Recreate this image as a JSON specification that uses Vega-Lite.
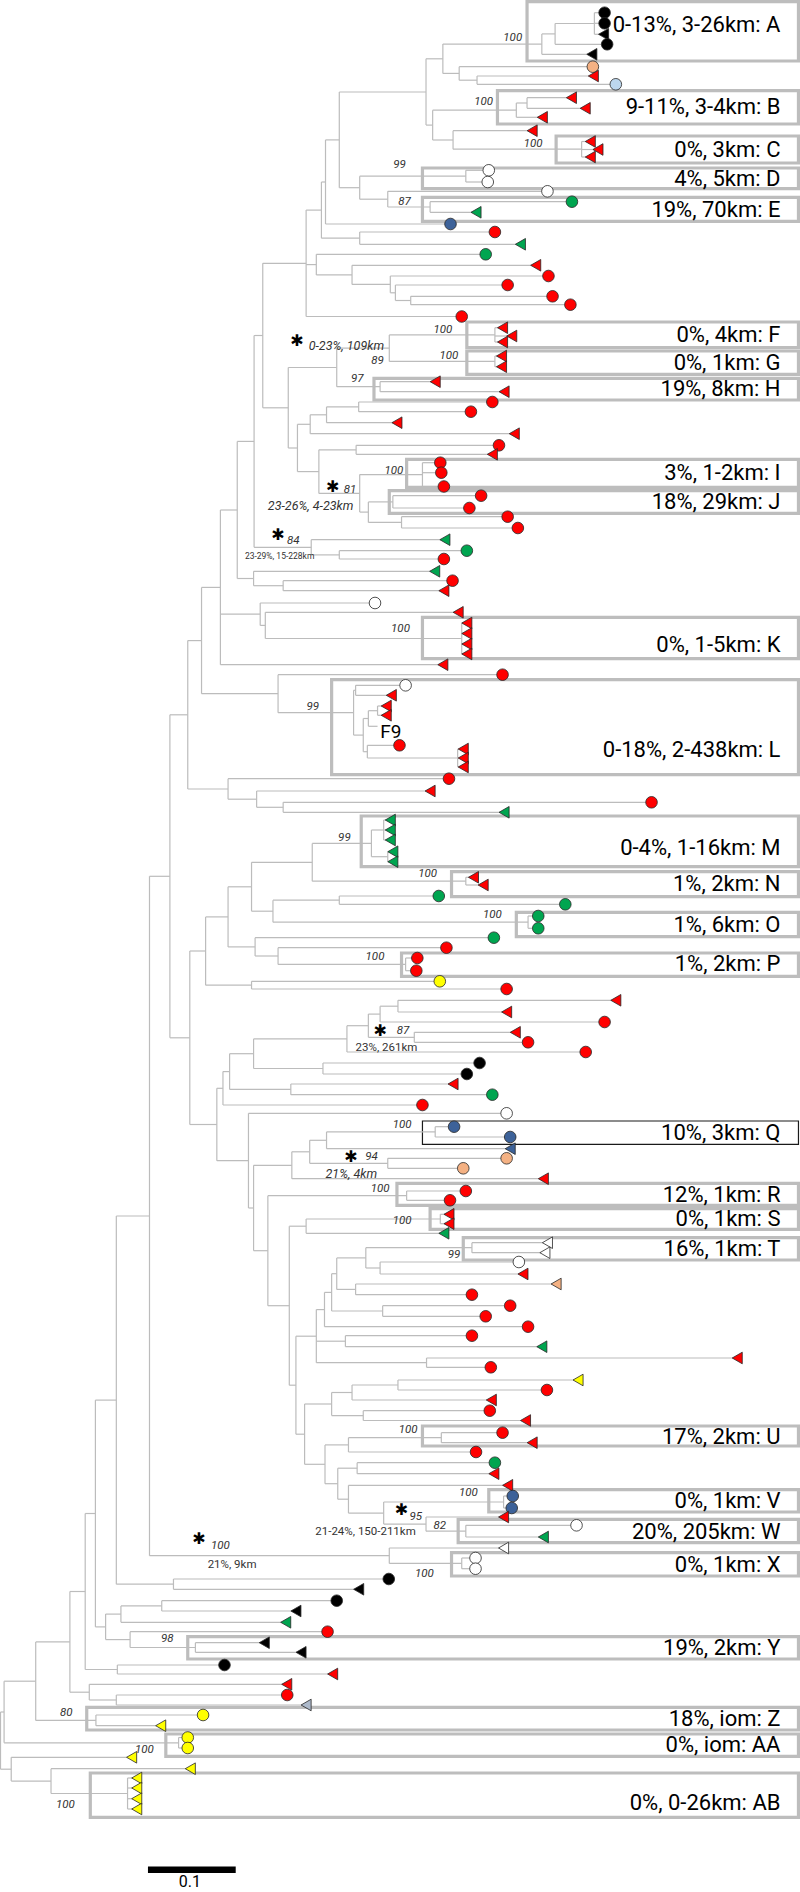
{
"$schema":"https://vega.github.io/schema/vega-lite/v6.json",
"width":800,"height":1892,"autosize":{"type":"none"},"padding":0,"background":"white",
"config":{"view":{"stroke":null},"text":{"font":"Roboto"}},
"datasets":{
"tree":[
{"id":"1","p":"2","px":1088,"x":1165,"y":23.5},
{"id":"2","p":"3","px":1062,"x":1088,"y":33.9},
{"id":"3","p":"4","px":868,"x":1062,"y":44.1},
{"id":"6","p":"5","px":900,"x":935,"y":80.2},
{"id":"5","p":"4","px":868,"x":900,"y":73.4},
{"id":"4","p":"7","px":835,"x":868,"y":58.8},
{"id":"9","p":"10","px":1012,"x":1033,"y":103},
{"id":"10","p":"11","px":848,"x":1012,"y":110.2},
{"id":"13","p":"12","px":888,"x":1140,"y":149.2},
{"id":"12","p":"11","px":848,"x":888,"y":140},
{"id":"11","p":"7","px":835,"x":848,"y":125.1},
{"id":"7","p":"18","px":665,"x":835,"y":92},
{"id":"14","p":"15","px":705,"x":913,"y":176.2},
{"id":"17","p":"16","px":760,"x":843,"y":207},
{"id":"16","p":"15","px":705,"x":760,"y":199.2},
{"id":"15","p":"18","px":665,"x":705,"y":187.7},
{"id":"18","p":"19","px":638,"x":665,"y":139.9},
{"id":"19","p":"19b","px":630,"x":638,"y":182},
{"id":"20","p":"19b","px":630,"x":705,"y":238.2},
{"id":"19b","p":"27","px":600,"x":630,"y":210.1},
{"id":"26","p":"25","px":775,"x":805,"y":300.5},
{"id":"25","p":"24","px":765,"x":775,"y":292.8},
{"id":"24","p":"23","px":690,"x":765,"y":284.4},
{"id":"23","p":"22","px":620,"x":690,"y":274.9},
{"id":"22","p":"27","px":600,"x":620,"y":264.6},
{"id":"27","p":"28","px":515,"x":600,"y":263.3},
{"id":"31","p":"33","px":763,"x":970,"y":334.9},
{"id":"32","p":"33","px":763,"x":970,"y":361.4},
{"id":"33","p":"34","px":660,"x":763,"y":348.2},
{"id":"35","p":"34","px":660,"x":745,"y":386.7},
{"id":"34","p":"29","px":565,"x":660,"y":367.5},
{"id":"36","p":"37","px":640,"x":703,"y":406.9},
{"id":"37","p":"38","px":608,"x":640,"y":414.8},
{"id":"38","p":"42","px":583,"x":608,"y":424.3},
{"id":"39","p":"40","px":625,"x":698,"y":449.8},
{"id":"43","p":"44","px":705,"x":828,"y":474.6},
{"id":"46","p":"48","px":722,"x":770,"y":501.9},
{"id":"47","p":"48","px":722,"x":787,"y":522.4},
{"id":"48","p":"44","px":705,"x":722,"y":512.1},
{"id":"44","p":"40","px":625,"x":705,"y":493.4},
{"id":"40","p":"42","px":583,"x":625,"y":471.6},
{"id":"42","p":"29","px":565,"x":583,"y":448},
{"id":"29","p":"28","px":515,"x":565,"y":407.8},
{"id":"28","p":"30","px":498,"x":515,"y":335.5},
{"id":"49","p":"50","px":610,"x":665,"y":554.9},
{"id":"50","p":"30","px":498,"x":610,"y":547.3},
{"id":"30","p":"53","px":465,"x":498,"y":441.4},
{"id":"51","p":"52","px":497,"x":555,"y":585.7},
{"id":"52","p":"53","px":465,"x":497,"y":578.5},
{"id":"53","p":"58","px":432,"x":465,"y":510},
{"id":"55","p":"56","px":520,"x":905,"y":638.5},
{"id":"56","p":"57","px":510,"x":520,"y":625.4},
{"id":"57","p":"58","px":432,"x":510,"y":614.2},
{"id":"58","p":"59","px":395,"x":432,"y":587.4},
{"id":"62","p":"68","px":693,"x":697,"y":690.3},
{"id":"63","p":"64","px":722,"x":740,"y":710.7},
{"id":"64","p":"67","px":712,"x":722,"y":718.5},
{"id":"65","p":"66","px":720,"x":897,"y":758},
{"id":"66","p":"67","px":712,"x":720,"y":751.7},
{"id":"67","p":"68","px":693,"x":712,"y":735.1},
{"id":"68","p":"60","px":545,"x":693,"y":712.7},
{"id":"60","p":"59","px":395,"x":545,"y":693.7},
{"id":"59","p":"61","px":368,"x":395,"y":640.6},
{"id":"70","p":"71","px":503,"x":555,"y":807.3},
{"id":"71","p":"69","px":447,"x":503,"y":799.2},
{"id":"69","p":"61","px":368,"x":447,"y":789},
{"id":"61","p":"72","px":333,"x":368,"y":714.8},
{"id":"72","p":"73","px":293,"x":333,"y":876.3},
{"id":"74a","p":"74","px":728,"x":752,"y":830},
{"id":"74b","p":"74","px":728,"x":760,"y":856.7},
{"id":"74","p":"76","px":612,"x":728,"y":843.4},
{"id":"75","p":"76","px":612,"x":913,"y":881.2},
{"id":"76","p":"80","px":493,"x":612,"y":862.3},
{"id":"77","p":"79","px":535,"x":665,"y":900.2},
{"id":"78","p":"79","px":535,"x":1035,"y":922.2},
{"id":"79","p":"80","px":493,"x":535,"y":911.2},
{"id":"80","p":"82","px":447,"x":493,"y":886.8},
{"id":"85","p":"84","px":545,"x":795,"y":964.4},
{"id":"84","p":"81","px":500,"x":545,"y":956},
{"id":"81","p":"82","px":447,"x":500,"y":946.9},
{"id":"82","p":"83","px":403,"x":447,"y":916.9},
{"id":"86","p":"83","px":403,"x":493,"y":985.2},
{"id":"83","p":"87","px":372,"x":403,"y":951},
{"id":"88","p":"89","px":745,"x":780,"y":1006.2},
{"id":"89","p":"91","px":722,"x":745,"y":1014.1},
{"id":"90","p":"91","px":722,"x":812,"y":1037.3},
{"id":"91","p":"92","px":680,"x":722,"y":1025.7},
{"id":"92","p":"94","px":497,"x":680,"y":1038.9},
{"id":"93","p":"94","px":497,"x":633,"y":1068.5},
{"id":"94","p":"96","px":450,"x":497,"y":1053.7},
{"id":"95","p":"96","px":450,"x":570,"y":1089.4},
{"id":"96","p":"97","px":437,"x":450,"y":1071.6},
{"id":"97","p":"98","px":425,"x":437,"y":1088.3},
{"id":"100","p":"101","px":640,"x":853,"y":1131.9},
{"id":"101","p":"103","px":607,"x":640,"y":1140.3},
{"id":"102","p":"103","px":607,"x":760,"y":1163.3},
{"id":"103","p":"104","px":572,"x":607,"y":1151.8},
{"id":"104","p":"105","px":497,"x":572,"y":1165.3},
{"id":"106","p":"110","px":525,"x":797,"y":1195.7},
{"id":"107","p":"108","px":600,"x":863,"y":1219},
{"id":"108","p":"109","px":567,"x":600,"y":1226.2},
{"id":"112","p":"114","px":717,"x":925,"y":1247.7},
{"id":"113","p":"114","px":717,"x":745,"y":1268},
{"id":"114","p":"116","px":660,"x":717,"y":1257.9},
{"id":"115","p":"116","px":660,"x":697,"y":1289.4},
{"id":"116","p":"118","px":650,"x":660,"y":1273.7},
{"id":"117","p":"118","px":650,"x":750,"y":1311},
{"id":"118","p":"119","px":636,"x":650,"y":1292.4},
{"id":"119","p":"122","px":620,"x":636,"y":1309.6},
{"id":"120","p":"122","px":620,"x":677,"y":1341.2},
{"id":"121","p":"122","px":620,"x":836,"y":1362.7},
{"id":"122","p":"111","px":580,"x":620,"y":1336.2},
{"id":"126","p":"127","px":690,"x":780,"y":1385},
{"id":"127","p":"124","px":650,"x":690,"y":1392.5},
{"id":"128","p":"124","px":650,"x":712,"y":1415.6},
{"id":"124","p":"123","px":597,"x":650,"y":1404},
{"id":"129","p":"130","px":683,"x":865,"y":1437.7},
{"id":"130","p":"125","px":637,"x":683,"y":1444.9},
{"id":"131","p":"137","px":662,"x":700,"y":1468.2},
{"id":"132","p":"135","px":752,"x":987,"y":1502},
{"id":"133","p":"134","px":835,"x":913,"y":1531.2},
{"id":"134","p":"135","px":752,"x":835,"y":1524.1},
{"id":"135","p":"136","px":683,"x":752,"y":1513.1},
{"id":"136","p":"137","px":662,"x":683,"y":1499.2},
{"id":"137","p":"125","px":637,"x":662,"y":1483.7},
{"id":"125","p":"123","px":597,"x":637,"y":1464.3},
{"id":"123","p":"111","px":580,"x":597,"y":1434.2},
{"id":"111","p":"109","px":567,"x":580,"y":1385.2},
{"id":"109","p":"110","px":525,"x":567,"y":1305.7},
{"id":"110","p":"105","px":497,"x":525,"y":1250.7},
{"id":"105","p":"99","px":487,"x":497,"y":1208},
{"id":"99","p":"98","px":425,"x":487,"y":1160.7},
{"id":"98","p":"87","px":372,"x":425,"y":1124.5},
{"id":"87","p":"72","px":333,"x":372,"y":1037.8},
{"id":"139","p":"138","px":763,"x":905,"y":1563.4},
{"id":"138","p":"73","px":293,"x":763,"y":1555.7},
{"id":"73","p":"140","px":228,"x":293,"y":1216},
{"id":"141","p":"140","px":228,"x":340,"y":1584.2},
{"id":"140","p":"142","px":187,"x":228,"y":1400.1},
{"id":"143","p":"144","px":237,"x":317,"y":1605.9},
{"id":"144","p":"147","px":207,"x":237,"y":1614.1},
{"id":"145","p":"146","px":255,"x":383,"y":1647.5},
{"id":"146","p":"147","px":207,"x":255,"y":1639.6},
{"id":"147","p":"142","px":187,"x":207,"y":1626.9},
{"id":"142","p":"149","px":167,"x":187,"y":1513.5},
{"id":"148","p":"149","px":167,"x":230,"y":1669.5},
{"id":"149","p":"152","px":137,"x":167,"y":1591.5},
{"id":"150","p":"151","px":175,"x":228,"y":1700},
{"id":"151","p":"152","px":137,"x":175,"y":1692.2},
{"id":"152","p":"154","px":70,"x":137,"y":1641.9},
{"id":"153","p":"154","px":70,"x":188,"y":1720.4},
{"id":"154","p":"r1","px":8,"x":70,"y":1681.2},
{"id":"155","p":"r1","px":8,"x":350,"y":1742.8},
{"id":"r1","p":"r0","px":1,"x":8,"y":1712},
{"id":"156","p":"157","px":100,"x":250,"y":1793.5},
{"id":"157","p":"158","px":22,"x":100,"y":1781.1},
{"id":"158","p":"r0","px":1,"x":22,"y":1769.2},
{"p":"1","px":1165,"x":1185,"y":12.7,"k":"o","g":"black"},
{"p":"1","px":1165,"x":1185,"y":23.3,"k":"o","g":"black"},
{"p":"1","px":1165,"x":1183,"y":34.3,"k":"t","g":"black"},
{"p":"2","px":1088,"x":1190,"y":44.3,"k":"o","g":"black"},
{"p":"3","px":1062,"x":1160,"y":54.3,"k":"t","g":"black"},
{"p":"5","px":900,"x":1162,"y":66.7,"k":"o","g":"peach"},
{"p":"6","px":935,"x":1163,"y":76,"k":"t","g":"red"},
{"p":"6","px":935,"x":1207,"y":84.3,"k":"o","g":"ltblue"},
{"p":"9","px":1033,"x":1120,"y":97.7,"k":"t","g":"red"},
{"p":"9","px":1033,"x":1147,"y":108.3,"k":"t","g":"red"},
{"p":"10","px":1012,"x":1063,"y":117.3,"k":"t","g":"red"},
{"p":"12","px":888,"x":1043,"y":130.7,"k":"t","g":"red"},
{"p":"13","px":1140,"x":1157,"y":141.5,"k":"t","g":"red"},
{"p":"13","px":1140,"x":1172,"y":149.5,"k":"t","g":"red"},
{"p":"13","px":1140,"x":1157,"y":157,"k":"t","g":"red"},
{"p":"14","px":913,"x":958,"y":170.3,"k":"o","g":"white"},
{"p":"14","px":913,"x":956,"y":182,"k":"o","g":"white"},
{"p":"16","px":760,"x":1073,"y":191.3,"k":"o","g":"white"},
{"p":"17","px":843,"x":1121,"y":201.7,"k":"o","g":"green"},
{"p":"17","px":843,"x":933,"y":212.3,"k":"t","g":"green"},
{"p":"19","px":638,"x":883,"y":224,"k":"o","g":"blue"},
{"p":"20","px":705,"x":970,"y":232,"k":"o","g":"red"},
{"p":"20","px":705,"x":1020,"y":244.3,"k":"t","g":"green"},
{"p":"22","px":620,"x":952,"y":254.3,"k":"o","g":"green"},
{"p":"23","px":690,"x":1050,"y":265.3,"k":"t","g":"red"},
{"p":"24","px":765,"x":1075,"y":276,"k":"o","g":"red"},
{"p":"25","px":775,"x":995,"y":285,"k":"o","g":"red"},
{"p":"26","px":805,"x":1083,"y":296.3,"k":"o","g":"red"},
{"p":"26","px":805,"x":1118,"y":304.7,"k":"o","g":"red"},
{"p":"27","px":600,"x":905,"y":316.5,"k":"o","g":"red"},
{"p":"31","px":970,"x":985,"y":327.7,"k":"t","g":"red"},
{"p":"31","px":970,"x":1003,"y":336,"k":"t","g":"red"},
{"p":"31","px":970,"x":985,"y":342,"k":"t","g":"red"},
{"p":"32","px":970,"x":983,"y":356,"k":"t","g":"red"},
{"p":"32","px":970,"x":983,"y":366.7,"k":"t","g":"red"},
{"p":"35","px":745,"x":853,"y":381.7,"k":"t","g":"red"},
{"p":"35","px":745,"x":988,"y":391.7,"k":"t","g":"red"},
{"p":"36","px":703,"x":965,"y":402,"k":"o","g":"red"},
{"p":"36","px":703,"x":923,"y":411.7,"k":"o","g":"red"},
{"p":"37","px":640,"x":778,"y":422.7,"k":"t","g":"red"},
{"p":"38","px":608,"x":1008,"y":433.7,"k":"t","g":"red"},
{"p":"39","px":698,"x":978,"y":445.3,"k":"o","g":"red"},
{"p":"39","px":698,"x":965,"y":454.3,"k":"t","g":"red"},
{"p":"43","px":828,"x":863,"y":462.7,"k":"o","g":"red"},
{"p":"43","px":828,"x":865,"y":472.7,"k":"o","g":"red"},
{"p":"43","px":828,"x":870,"y":486.5,"k":"o","g":"red"},
{"p":"46","px":770,"x":943,"y":495.7,"k":"o","g":"red"},
{"p":"46","px":770,"x":920,"y":508,"k":"o","g":"red"},
{"p":"47","px":787,"x":995,"y":516.7,"k":"o","g":"red"},
{"p":"47","px":787,"x":1015,"y":528,"k":"o","g":"red"},
{"p":"50","px":610,"x":872,"y":539.7,"k":"t","g":"green"},
{"p":"49","px":665,"x":915,"y":550.7,"k":"o","g":"green"},
{"p":"49","px":665,"x":870,"y":559,"k":"o","g":"red"},
{"p":"52","px":497,"x":852,"y":571.3,"k":"t","g":"green"},
{"p":"51","px":555,"x":887,"y":580.7,"k":"o","g":"red"},
{"p":"51","px":555,"x":870,"y":590.7,"k":"t","g":"red"},
{"p":"57","px":510,"x":735,"y":603,"k":"o","g":"white"},
{"p":"56","px":520,"x":898,"y":612.3,"k":"t","g":"red"},
{"p":"55","px":905,"x":915,"y":623,"k":"t","g":"red"},
{"p":"55","px":905,"x":915,"y":633.5,"k":"t","g":"red"},
{"p":"55","px":905,"x":915,"y":644,"k":"t","g":"red"},
{"p":"55","px":905,"x":915,"y":654,"k":"t","g":"red"},
{"p":"58","px":432,"x":868,"y":664.7,"k":"t","g":"red"},
{"p":"60","px":545,"x":985,"y":674.7,"k":"o","g":"red"},
{"p":"62","px":697,"x":795,"y":685.3,"k":"o","g":"white"},
{"p":"62","px":697,"x":767,"y":695.3,"k":"t","g":"red"},
{"p":"63","px":740,"x":757,"y":706,"k":"t","g":"red"},
{"p":"63","px":740,"x":757,"y":715.3,"k":"t","g":"red"},
{"p":"64","px":722,"x":740,"y":726.3},
{"p":"66","px":720,"x":783,"y":745.3,"k":"o","g":"red"},
{"p":"65","px":897,"x":908,"y":749,"k":"t","g":"red"},
{"p":"65","px":897,"x":908,"y":758,"k":"t","g":"red"},
{"p":"65","px":897,"x":908,"y":767,"k":"t","g":"red"},
{"p":"69","px":447,"x":880,"y":778.7,"k":"o","g":"red"},
{"p":"71","px":503,"x":843,"y":791,"k":"t","g":"red"},
{"p":"70","px":555,"x":1277,"y":802.3,"k":"o","g":"red"},
{"p":"70","px":555,"x":988,"y":812.3,"k":"t","g":"green"},
{"p":"74a","px":752,"x":765,"y":820,"k":"t","g":"green"},
{"p":"74a","px":752,"x":765,"y":830,"k":"t","g":"green"},
{"p":"74a","px":752,"x":765,"y":840,"k":"t","g":"green"},
{"p":"74b","px":760,"x":770,"y":851.7,"k":"t","g":"green"},
{"p":"74b","px":760,"x":770,"y":861.7,"k":"t","g":"green"},
{"p":"75","px":913,"x":928,"y":877.3,"k":"t","g":"red"},
{"p":"75","px":913,"x":947,"y":885,"k":"t","g":"red"},
{"p":"77","px":665,"x":860,"y":896,"k":"o","g":"green"},
{"p":"77","px":665,"x":1108,"y":904.3,"k":"o","g":"green"},
{"p":"78","px":1035,"x":1055,"y":916,"k":"o","g":"green"},
{"p":"78","px":1035,"x":1055,"y":928.3,"k":"o","g":"green"},
{"p":"81","px":500,"x":968,"y":937.7,"k":"o","g":"green"},
{"p":"84","px":545,"x":875,"y":947.7,"k":"o","g":"red"},
{"p":"85","px":795,"x":818,"y":958,"k":"o","g":"red"},
{"p":"85","px":795,"x":816,"y":970.7,"k":"o","g":"red"},
{"p":"86","px":493,"x":862,"y":981.3,"k":"o","g":"yellow"},
{"p":"86","px":493,"x":993,"y":989,"k":"o","g":"red"},
{"p":"88","px":780,"x":1207,"y":1000.3,"k":"t","g":"red"},
{"p":"88","px":780,"x":993,"y":1012,"k":"t","g":"red"},
{"p":"89","px":745,"x":1185,"y":1022,"k":"o","g":"red"},
{"p":"90","px":812,"x":1010,"y":1032.3,"k":"t","g":"red"},
{"p":"90","px":812,"x":1035,"y":1042.3,"k":"o","g":"red"},
{"p":"92","px":680,"x":1148,"y":1052,"k":"o","g":"red"},
{"p":"93","px":633,"x":940,"y":1063,"k":"o","g":"black"},
{"p":"93","px":633,"x":915,"y":1074,"k":"o","g":"black"},
{"p":"95","px":570,"x":888,"y":1084,"k":"t","g":"red"},
{"p":"95","px":570,"x":965,"y":1094.7,"k":"o","g":"green"},
{"p":"97","px":437,"x":828,"y":1105,"k":"o","g":"red"},
{"p":"99","px":487,"x":993,"y":1113.3,"k":"o","g":"white"},
{"p":"100","px":853,"x":890,"y":1126.7,"k":"o","g":"blue"},
{"p":"100","px":853,"x":1000,"y":1137,"k":"o","g":"blue"},
{"p":"101","px":640,"x":1000,"y":1148.7,"k":"t","g":"blue"},
{"p":"102","px":760,"x":993,"y":1158.3,"k":"o","g":"peach"},
{"p":"102","px":760,"x":908,"y":1168.3,"k":"o","g":"peach"},
{"p":"104","px":572,"x":1065,"y":1178.7,"k":"t","g":"red"},
{"p":"106","px":797,"x":913,"y":1191,"k":"o","g":"red"},
{"p":"106","px":797,"x":882,"y":1200.3,"k":"o","g":"red"},
{"p":"107","px":863,"x":880,"y":1214.3,"k":"t","g":"red"},
{"p":"107","px":863,"x":880,"y":1223.7,"k":"t","g":"red"},
{"p":"108","px":600,"x":870,"y":1233.3,"k":"t","g":"green"},
{"p":"112","px":925,"x":1073,"y":1242.7,"k":"t","g":"white"},
{"p":"112","px":925,"x":1068,"y":1252.7,"k":"t","g":"white"},
{"p":"113","px":745,"x":1017,"y":1262,"k":"o","g":"white"},
{"p":"113","px":745,"x":1025,"y":1274,"k":"t","g":"red"},
{"p":"115","px":697,"x":1090,"y":1284,"k":"t","g":"peach"},
{"p":"115","px":697,"x":925,"y":1294.7,"k":"o","g":"red"},
{"p":"117","px":750,"x":1000,"y":1305.7,"k":"o","g":"red"},
{"p":"117","px":750,"x":952,"y":1316.3,"k":"o","g":"red"},
{"p":"119","px":636,"x":1035,"y":1326.7,"k":"o","g":"red"},
{"p":"120","px":677,"x":925,"y":1335.7,"k":"o","g":"red"},
{"p":"120","px":677,"x":1062,"y":1346.7,"k":"t","g":"green"},
{"p":"121","px":836,"x":1445,"y":1358,"k":"t","g":"red"},
{"p":"121","px":836,"x":962,"y":1367.3,"k":"o","g":"red"},
{"p":"126","px":780,"x":1133,"y":1380,"k":"t","g":"yellow"},
{"p":"126","px":780,"x":1072,"y":1390,"k":"o","g":"red"},
{"p":"127","px":690,"x":963,"y":1400,"k":"t","g":"red"},
{"p":"128","px":712,"x":960,"y":1410.7,"k":"o","g":"red"},
{"p":"128","px":712,"x":1030,"y":1420.5,"k":"t","g":"red"},
{"p":"129","px":865,"x":985,"y":1432.7,"k":"o","g":"red"},
{"p":"129","px":865,"x":1043,"y":1442.7,"k":"t","g":"red"},
{"p":"130","px":683,"x":933,"y":1452,"k":"o","g":"red"},
{"p":"131","px":700,"x":970,"y":1462.7,"k":"o","g":"green"},
{"p":"131","px":700,"x":968,"y":1473.7,"k":"t","g":"red"},
{"p":"136","px":683,"x":995,"y":1485.3,"k":"t","g":"red"},
{"p":"132","px":987,"x":1005,"y":1496,"k":"o","g":"blue"},
{"p":"132","px":987,"x":1003,"y":1508,"k":"o","g":"blue"},
{"p":"134","px":835,"x":987,"y":1517,"k":"t","g":"red"},
{"p":"133","px":913,"x":1130,"y":1525.3,"k":"o","g":"white"},
{"p":"133","px":913,"x":1065,"y":1537,"k":"t","g":"green"},
{"p":"138","px":763,"x":987,"y":1548,"k":"t","g":"white"},
{"p":"139","px":905,"x":932,"y":1558,"k":"o","g":"white"},
{"p":"139","px":905,"x":932,"y":1568.7,"k":"o","g":"white"},
{"p":"141","px":340,"x":762,"y":1579,"k":"o","g":"black"},
{"p":"141","px":340,"x":703,"y":1589.3,"k":"t","g":"black"},
{"p":"143","px":317,"x":660,"y":1600.7,"k":"o","g":"black"},
{"p":"143","px":317,"x":580,"y":1611,"k":"t","g":"black"},
{"p":"144","px":237,"x":560,"y":1622.3,"k":"t","g":"green"},
{"p":"146","px":255,"x":642,"y":1631.7,"k":"o","g":"red"},
{"p":"145","px":383,"x":518,"y":1642.7,"k":"t","g":"black"},
{"p":"145","px":383,"x":590,"y":1652.3,"k":"t","g":"black"},
{"p":"148","px":230,"x":440,"y":1665,"k":"o","g":"black"},
{"p":"148","px":230,"x":652,"y":1674,"k":"t","g":"red"},
{"p":"151","px":175,"x":562,"y":1684.3,"k":"t","g":"red"},
{"p":"150","px":228,"x":563,"y":1695,"k":"o","g":"red"},
{"p":"150","px":228,"x":600,"y":1705,"k":"t","g":"grayblue"},
{"p":"153","px":188,"x":398,"y":1715,"k":"o","g":"yellow"},
{"p":"153","px":188,"x":315,"y":1725.7,"k":"t","g":"yellow"},
{"p":"155","px":350,"x":368,"y":1737.5,"k":"o","g":"yellow"},
{"p":"155","px":350,"x":368,"y":1748,"k":"o","g":"yellow"},
{"p":"158","px":22,"x":258,"y":1757.3,"k":"t","g":"yellow"},
{"p":"157","px":100,"x":373,"y":1768.7,"k":"t","g":"yellow"},
{"p":"156","px":250,"x":268,"y":1778,"k":"t","g":"yellow"},
{"p":"156","px":250,"x":268,"y":1788,"k":"t","g":"yellow"},
{"p":"156","px":250,"x":268,"y":1798.7,"k":"t","g":"yellow"},
{"p":"156","px":250,"x":268,"y":1809,"k":"t","g":"yellow"}
],
"boxes":[
{"id":"A","x1":1033,"x2":1565,"y1":1.7,"y2":61,"ly":25,"t":"0-13%, 3-26km: A"},
{"id":"B","x1":975,"x2":1565,"y1":90.7,"y2":124,"ly":107,"t":"9-11%, 3-4km: B"},
{"id":"C","x1":1090,"x2":1565,"y1":136,"y2":163,"ly":150,"t":"0%, 3km: C"},
{"id":"D","x1":828,"x2":1565,"y1":168,"y2":188.7,"ly":179,"t":"4%, 5km: D"},
{"id":"E","x1":828,"x2":1565,"y1":197.3,"y2":221.3,"ly":209.5,"t":"19%, 70km: E"},
{"id":"F","x1":915,"x2":1565,"y1":322,"y2":347.7,"ly":334.5,"t":"0%, 4km: F"},
{"id":"G","x1":915,"x2":1565,"y1":351,"y2":374.3,"ly":362.7,"t":"0%, 1km: G"},
{"id":"H","x1":733,"x2":1565,"y1":378.3,"y2":400,"ly":389.2,"t":"19%, 8km: H"},
{"id":"I","x1":797,"x2":1565,"y1":459.3,"y2":487.3,"ly":473,"t":"3%, 1-2km: I"},
{"id":"J","x1":763,"x2":1565,"y1":490.7,"y2":513.3,"ly":502,"t":"18%, 29km: J"},
{"id":"K","x1":828,"x2":1565,"y1":617.3,"y2":658.7,"ly":645,"t":"0%, 1-5km: K"},
{"id":"L","x1":650,"x2":1565,"y1":679.7,"y2":774.7,"ly":750.3,"t":"0-18%, 2-438km: L"},
{"id":"M","x1":708,"x2":1565,"y1":816,"y2":866.7,"ly":848.3,"t":"0-4%, 1-16km: M"},
{"id":"N","x1":885,"x2":1565,"y1":871.7,"y2":896.7,"ly":884.2,"t":"1%, 2km: N"},
{"id":"O","x1":1012,"x2":1565,"y1":912.3,"y2":936.7,"ly":924.5,"t":"1%, 6km: O"},
{"id":"P","x1":787,"x2":1565,"y1":953,"y2":976.3,"ly":964,"t":"1%, 2km: P"},
{"id":"Q","x1":828,"x2":1565,"y1":1121,"y2":1144.3,"ly":1132.7,"t":"10%, 3km: Q"},
{"id":"R","x1":778,"x2":1565,"y1":1183.3,"y2":1205.3,"ly":1194.5,"t":"12%, 1km: R"},
{"id":"S","x1":843,"x2":1565,"y1":1208.7,"y2":1229.3,"ly":1219,"t":"0%, 1km: S"},
{"id":"T","x1":908,"x2":1565,"y1":1237.7,"y2":1260,"ly":1249,"t":"16%, 1km: T"},
{"id":"U","x1":828,"x2":1565,"y1":1426,"y2":1446,"ly":1436.5,"t":"17%, 2km: U"},
{"id":"V","x1":958,"x2":1565,"y1":1489.7,"y2":1512,"ly":1501.3,"t":"0%, 1km: V"},
{"id":"W","x1":898,"x2":1565,"y1":1519.3,"y2":1542.7,"ly":1531.5,"t":"20%, 205km: W"},
{"id":"X","x1":885,"x2":1565,"y1":1552.7,"y2":1576,"ly":1564.5,"t":"0%, 1km: X"},
{"id":"Y","x1":368,"x2":1565,"y1":1636.7,"y2":1659,"ly":1648,"t":"19%, 2km: Y"},
{"id":"Z","x1":170,"x2":1565,"y1":1707.3,"y2":1730,"ly":1718.7,"t":"18%, iom: Z"},
{"id":"AA","x1":325,"x2":1565,"y1":1734,"y2":1756.3,"ly":1745.2,"t":"0%, iom: AA"},
{"id":"AB","x1":177,"x2":1565,"y1":1773,"y2":1817.3,"ly":1803,"t":"0%, 0-26km: AB"}
],
"boot":[
{"x":1005,"y":37.7,"t":"100"},{"x":948,"y":102.3,"t":"100"},{"x":1045,"y":144,"t":"100"},
{"x":783,"y":165.3,"t":"99"},{"x":793,"y":202,"t":"87"},{"x":868,"y":330.3,"t":"100"},
{"x":880,"y":356,"t":"100"},{"x":740,"y":361,"t":"89"},{"x":700,"y":379.3,"t":"97"},
{"x":772,"y":471,"t":"100"},{"x":686,"y":489.7,"t":"81"},{"x":575,"y":540.7,"t":"84"},
{"x":785,"y":629,"t":"100"},{"x":613,"y":707,"t":"99"},{"x":675,"y":838.3,"t":"99"},
{"x":838,"y":874,"t":"100"},{"x":965,"y":915.3,"t":"100"},{"x":735,"y":957.3,"t":"100"},
{"x":790,"y":1030.7,"t":"87"},{"x":788,"y":1125,"t":"100"},{"x":728,"y":1156.7,"t":"94"},
{"x":745,"y":1189.3,"t":"100"},{"x":788,"y":1221,"t":"100"},{"x":890,"y":1255,"t":"99"},
{"x":800,"y":1430.3,"t":"100"},{"x":918,"y":1493,"t":"100"},{"x":815,"y":1517,"t":"95"},
{"x":862,"y":1526,"t":"82"},{"x":432,"y":1546.3,"t":"100"},{"x":832,"y":1574.3,"t":"100"},
{"x":328,"y":1639.3,"t":"98"},{"x":130,"y":1712.7,"t":"80"},{"x":283,"y":1750.3,"t":"100"},
{"x":128,"y":1804.7,"t":"100"}
],
"stars":[
{"x":582,"y":341},{"x":652,"y":487.3},{"x":545,"y":535},{"x":745,"y":1030.7},
{"x":688,"y":1156.7},{"x":787,"y":1510.3},{"x":390,"y":1538.7}
],
"notesI":[
{"x":605,"y":346,"t":"0-23%, 109km"},{"x":525,"y":506.3,"t":"23-26%, 4-23km"},{"x":638,"y":1173.5,"t":"21%, 4km"}
],
"notesN":[
{"x":697,"y":1047.5,"t":"23%, 261km"},{"x":618,"y":1532,"t":"21-24%, 150-211km"},{"x":407,"y":1564.7,"t":"21%, 9km"}
],
"notesS":[{"x":480,"y":555.5,"t":"23-29%, 15-228km"}],
"f9":[{"x":766,"y":732,"t":"F9"}],
"bar":[{"a":290,"b":462,"y":1869.7,"t":"0.1","tx":372,"ty":1881.5}]
},
"layer":[
{"data":{"name":"boxes"},"mark":{"type":"rect","filled":false},
 "encoding":{"x":{"field":"x1","type":"quantitative","scale":{"domain":[0,1568],"nice":false,"zero":false},"axis":null},"x2":{"field":"x2"},
 "y":{"field":"y1","type":"quantitative","scale":{"domain":[0,1892],"nice":false,"zero":false,"reverse":true},"axis":null},"y2":{"field":"y2"},
 "stroke":{"condition":{"test":"datum.id==='Q'","value":"#1a1a1a"},"value":"#bdbdbd"},
 "strokeWidth":{"condition":{"test":"datum.id==='Q'","value":1.2},"value":3.2}}},
{"data":{"name":"tree"},"mark":{"type":"rule","color":"#bcbcbc","strokeWidth":1.2},
 "encoding":{"x":{"field":"px","type":"quantitative","scale":{"domain":[0,1568],"nice":false,"zero":false},"axis":null},"x2":{"field":"x"},
 "y":{"field":"y","type":"quantitative","scale":{"domain":[0,1892],"nice":false,"zero":false,"reverse":true},"axis":null}}},
{"data":{"name":"tree"},"transform":[{"aggregate":[{"op":"min","field":"y","as":"lo"},{"op":"max","field":"y","as":"hi"}],"groupby":["p","px"]}],
 "mark":{"type":"rule","color":"#bcbcbc","strokeWidth":1.2},
 "encoding":{"x":{"field":"px","type":"quantitative","scale":{"domain":[0,1568],"nice":false,"zero":false},"axis":null},
 "y":{"field":"lo","type":"quantitative","scale":{"domain":[0,1892],"nice":false,"zero":false,"reverse":true},"axis":null},"y2":{"field":"hi"}}},
{"data":{"name":"tree"},"transform":[{"filter":"datum.k"}],
 "mark":{"type":"point","filled":true,"stroke":"#262626","strokeWidth":0.8,"opacity":1,"size":135},
 "encoding":{"x":{"field":"x","type":"quantitative","scale":{"domain":[0,1568],"nice":false,"zero":false},"axis":null},
 "y":{"field":"y","type":"quantitative","scale":{"domain":[0,1892],"nice":false,"zero":false,"reverse":true},"axis":null},
 "shape":{"field":"k","type":"nominal","scale":{"domain":["o","t"],"range":["circle","triangle-left"]},"legend":null},
 "fill":{"field":"g","type":"nominal","scale":{"domain":["red","black","green","blue","ltblue","peach","white","yellow","grayblue"],"range":["#ff0000","#000000","#00a550","#3d6299","#bdd7ee","#f4b183","#ffffff","#ffff00","#adb9ca"]},"legend":null}}},
{"data":{"name":"boxes"},"mark":{"type":"text","align":"right","baseline":"middle","fontSize":22,"dx":-18,"color":"#000"},
 "encoding":{"x":{"field":"x2","type":"quantitative","scale":{"domain":[0,1568],"nice":false,"zero":false},"axis":null},
 "y":{"field":"ly","type":"quantitative","scale":{"domain":[0,1892],"nice":false,"zero":false,"reverse":true},"axis":null},"text":{"field":"t"}}},
{"data":{"name":"boot"},"mark":{"type":"text","align":"center","baseline":"middle","fontSize":11.5,"fontStyle":"italic","color":"#333"},
 "encoding":{"x":{"field":"x","type":"quantitative","scale":{"domain":[0,1568],"nice":false,"zero":false},"axis":null},
 "y":{"field":"y","type":"quantitative","scale":{"domain":[0,1892],"nice":false,"zero":false,"reverse":true},"axis":null},"text":{"field":"t"}}},
{"data":{"name":"stars"},"mark":{"type":"text","align":"center","baseline":"middle","fontSize":16,"font":"DejaVu Sans","color":"#000","text":"✱"},
 "encoding":{"x":{"field":"x","type":"quantitative","scale":{"domain":[0,1568],"nice":false,"zero":false},"axis":null},
 "y":{"field":"y","type":"quantitative","scale":{"domain":[0,1892],"nice":false,"zero":false,"reverse":true},"axis":null}}},
{"data":{"name":"notesI"},"mark":{"type":"text","align":"left","baseline":"middle","fontSize":12.5,"fontStyle":"italic","color":"#333"},
 "encoding":{"x":{"field":"x","type":"quantitative","scale":{"domain":[0,1568],"nice":false,"zero":false},"axis":null},
 "y":{"field":"y","type":"quantitative","scale":{"domain":[0,1892],"nice":false,"zero":false,"reverse":true},"axis":null},"text":{"field":"t"}}},
{"data":{"name":"notesN"},"mark":{"type":"text","align":"left","baseline":"middle","fontSize":11.5,"color":"#333"},
 "encoding":{"x":{"field":"x","type":"quantitative","scale":{"domain":[0,1568],"nice":false,"zero":false},"axis":null},
 "y":{"field":"y","type":"quantitative","scale":{"domain":[0,1892],"nice":false,"zero":false,"reverse":true},"axis":null},"text":{"field":"t"}}},
{"data":{"name":"notesS"},"mark":{"type":"text","align":"left","baseline":"middle","fontSize":8.5,"color":"#333"},
 "encoding":{"x":{"field":"x","type":"quantitative","scale":{"domain":[0,1568],"nice":false,"zero":false},"axis":null},
 "y":{"field":"y","type":"quantitative","scale":{"domain":[0,1892],"nice":false,"zero":false,"reverse":true},"axis":null},"text":{"field":"t"}}},
{"data":{"name":"f9"},"mark":{"type":"text","align":"center","baseline":"middle","fontSize":19,"color":"#000"},
 "encoding":{"x":{"field":"x","type":"quantitative","scale":{"domain":[0,1568],"nice":false,"zero":false},"axis":null},
 "y":{"field":"y","type":"quantitative","scale":{"domain":[0,1892],"nice":false,"zero":false,"reverse":true},"axis":null},"text":{"field":"t"}}},
{"data":{"name":"bar"},"mark":{"type":"rule","color":"#000","strokeWidth":6.5},
 "encoding":{"x":{"field":"a","type":"quantitative","scale":{"domain":[0,1568],"nice":false,"zero":false},"axis":null},"x2":{"field":"b"},
 "y":{"field":"y","type":"quantitative","scale":{"domain":[0,1892],"nice":false,"zero":false,"reverse":true},"axis":null}}},
{"data":{"name":"bar"},"mark":{"type":"text","align":"center","baseline":"middle","fontSize":16,"color":"#000"},
 "encoding":{"x":{"field":"tx","type":"quantitative","scale":{"domain":[0,1568],"nice":false,"zero":false},"axis":null},
 "y":{"field":"ty","type":"quantitative","scale":{"domain":[0,1892],"nice":false,"zero":false,"reverse":true},"axis":null},"text":{"field":"t"}}}
]
}
